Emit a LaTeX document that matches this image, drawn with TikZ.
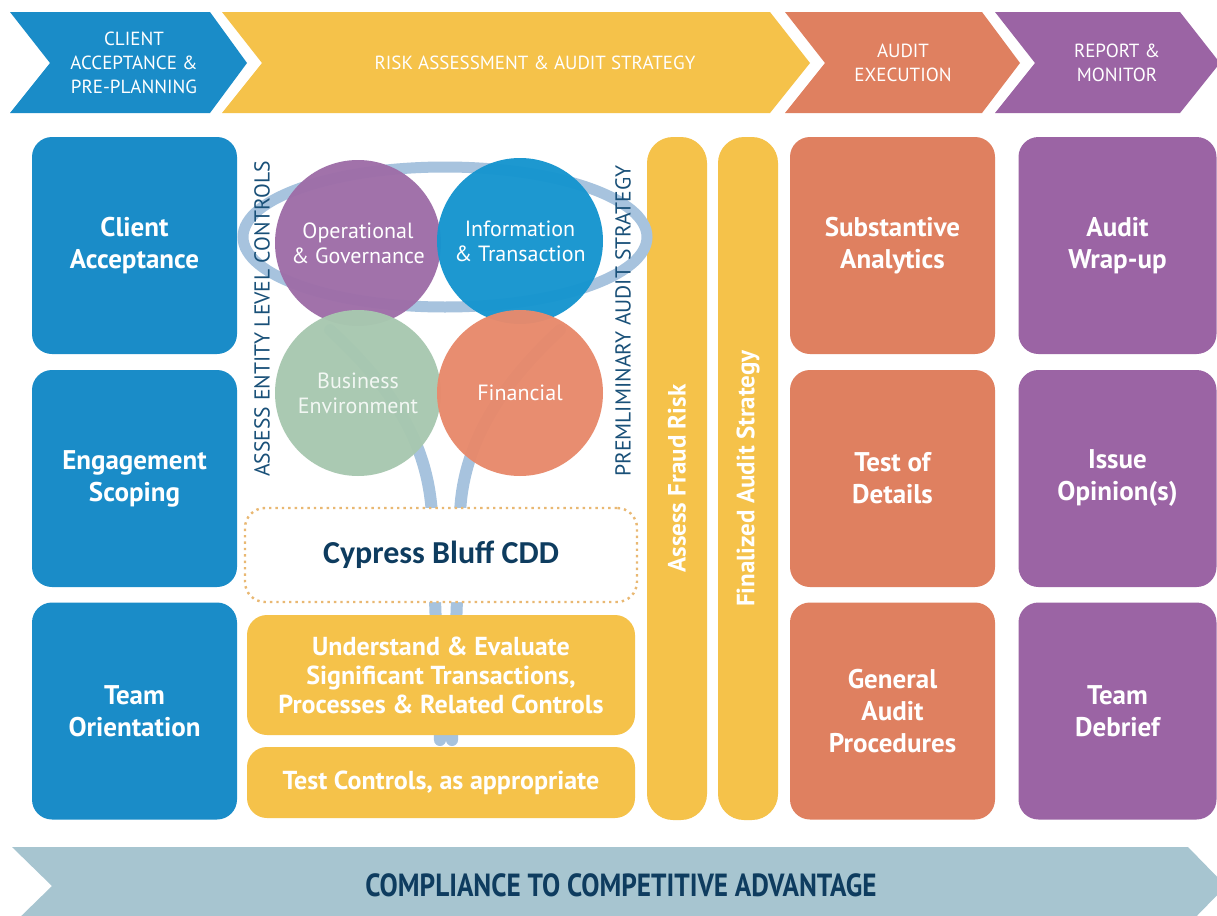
\documentclass[tikz,border=0pt]{standalone}
\usepackage{fontspec}
\setmainfont{PT Sans}
\newfontfamily\cddfont{Carlito}
\usetikzlibrary{positioning}

\definecolor{cblue}{RGB}{26,140,200}
\definecolor{cyellow}{RGB}{245,194,74}
\definecolor{corange}{RGB}{223,128,96}
\definecolor{cpurple}{RGB}{155,100,164}
\definecolor{cring}{RGB}{167,195,222}
\definecolor{cband}{RGB}{167,197,208}
\definecolor{cnavy}{RGB}{25,80,120}
\definecolor{cdeep}{RGB}{14,60,95}
\definecolor{cdot}{RGB}{233,184,114}
\definecolor{cop}{RGB}{158,110,168}
\definecolor{cinfo}{RGB}{22,149,207}
\definecolor{cbiz}{RGB}{168,200,176}
\definecolor{cfin}{RGB}{232,138,108}

\tikzset{
	phasetext/.style={text=white, align=center, font=\fontsize{9.5}{12}\selectfont},
	stagebox/.style={fill=#1, rounded corners=10pt, minimum width=102.5pt, minimum height=108.5pt,
			inner sep=0pt, text=white, align=center, font=\bfseries\fontsize{13.5}{16}\selectfont},
	bar/.style={fill=cyellow, rounded corners=13pt, rotate=90, minimum width=341.5pt, minimum height=30pt,
			inner sep=0pt, text=white, font=\bfseries\fontsize{12.5}{14}\selectfont},
	orb/.style={circle, fill=#1, fill opacity=0.97, text opacity=1, minimum size=83pt, inner sep=0pt,
			text=white, align=center, font=\fontsize{11}{12.5}\selectfont},
	taskbox/.style={fill=cyellow, rounded corners=10pt, minimum width=194pt, inner sep=0pt,
			text=white, align=center, font=\bfseries\fontsize{13}{14.5}\selectfont},
	sidetext/.style={rotate=90, text=cnavy, font=\fontsize{10.8}{12}\selectfont}
}

\begin{document}
\begin{tikzpicture}[x=0.5pt,y=-0.5pt]
	\clip (0,0) rectangle (1217,916);
	\fill[white] (0,0) rectangle (1217,916);

	% phases
	\fill[cblue] (10,12) -- (210,12) -- (247,63) -- (210,113) -- (10,113) -- (50,63) -- cycle;
	\fill[cyellow] (222,12) -- (770,12) -- (810,63) -- (770,113) -- (222,113) -- (262,63) -- cycle;
	\fill[corange] (785,12) -- (982,12) -- (1020,63) -- (982,113) -- (785,113) -- (825,63) -- cycle;
	\fill[cpurple] (995,12) -- (1180,12) -- (1220,63) -- (1180,113) -- (995,113) -- (1035,63) -- cycle;
	\node[phasetext] (plan) at (134,63) {CLIENT\\ACCEPTANCE \&\\PRE-PLANNING};
	\node[phasetext] (risk) at (535,63) {RISK ASSESSMENT \& AUDIT STRATEGY};
	\node[phasetext] (exec) at (903,63) {AUDIT\\EXECUTION};
	\node[phasetext] (report) at (1117,63) {REPORT \&\\MONITOR};

	% stage boxes
	\node[stagebox=cblue] (accept) at (134.5,245.5) {Client\\Acceptance};
	\node[stagebox=cblue] (scope) at (134.5,478.5) {Engagement\\Scoping};
	\node[stagebox=cblue] (orient) at (134.5,711) {Team\\Orientation};
	\node[stagebox=corange] (analytics) at (892.5,245.5) {Substantive\\Analytics};
	\node[stagebox=corange] (details) at (892.5,478.5) {Test of\\Details};
	\node[stagebox=corange] (general) at (892.5,711) {General\\Audit\\Procedures};
	\node[stagebox=cpurple, minimum width=99pt] (wrapup) at (1117.5,245.5) {Audit\\Wrap-up};
	\node[stagebox=cpurple, minimum width=99pt] (opinion) at (1117.5,478.5) {Issue\\Opinion(s)};
	\node[stagebox=cpurple, minimum width=99pt] (debrief) at (1117.5,711) {Team\\Debrief};

	% strategy bars
	\node[bar] (fraud) at (677,478.5) {Assess Fraud Risk};
	\node[bar] (final) at (748,478.5) {Finalized Audit Strategy};

	% ring and funnel
	\draw[cring, line width=5.5pt] (445,237) ellipse [x radius=202, y radius=70];
	\draw[cring, line width=6pt, line cap=round] (330,330) .. controls (395,390) and (428,445) .. (432,515) -- (440,740);
	\draw[cring, line width=6pt, line cap=round] (560,330) .. controls (495,390) and (462,450) .. (460,515) -- (452,740);

	% control circles
	\node[orb=cop] (oper) at (358,243) {Operational\\\& Governance};
	\node[orb=cinfo] (info) at (520,241) {Information\\\& Transaction};
	\node[orb=cbiz, text=white!85!cbiz] (biz) at (358,393) {Business\\Environment};
	\node[orb=cfin] (fin) at (520,393) {Financial};

	% side labels
	\node[sidetext] (entity) at (262,319) {ASSESS ENTITY LEVEL CONTROLS};
	\node[sidetext] (prelim) at (623,321) {PREMLIMINARY AUDIT STRATEGY};

	% client box and tasks
	\node[draw=cdot, dotted, line width=1.2pt, fill=white, rounded corners=10pt, minimum width=196pt,
		minimum height=47pt, text=cdeep, font=\cddfont\bfseries\fontsize{16}{18}\selectfont] (cdd) at (441,555) {Cypress Bluff CDD};
	\node[taskbox, minimum height=60pt] (evaluate) at (441,675) {Understand \& Evaluate\\Significant Transactions,\\Processes \& Related Controls};
	\node[taskbox, minimum height=35.5pt] (testctl) at (441,782.5) {Test Controls, as appropriate};

	% bottom band
	\fill[cband] (12,847) -- (1188,847) -- (1226,886) -- (1188,925) -- (12,925) -- (52,886) -- cycle;
	\node[text=cdeep, font=\bfseries\fontsize{16}{18}\selectfont] (advantage) at (621,885) {\scalebox{0.85}[1]{COMPLIANCE TO COMPETITIVE ADVANTAGE}};
\end{tikzpicture}
\end{document}
